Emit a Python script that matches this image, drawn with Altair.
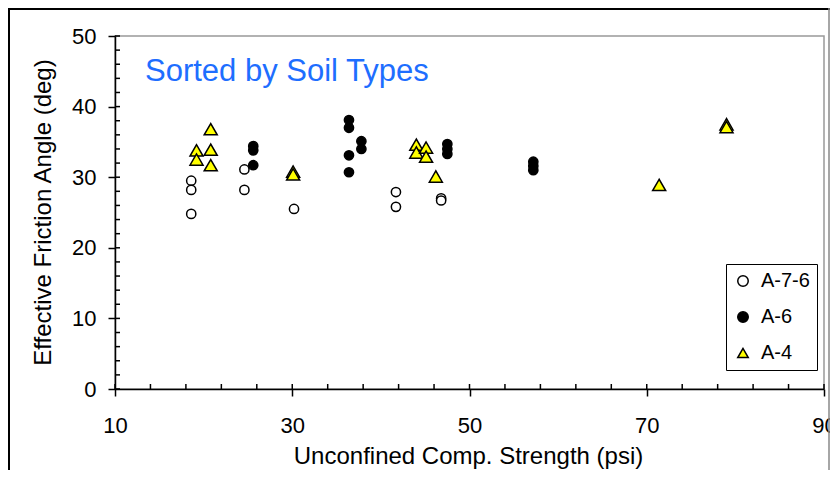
import altair as alt
import pandas as pd

FONT = "Liberation Sans"
TITLE = "Sorted by Soil Types"
X_TITLE = "Unconfined Comp. Strength (psi)"
Y_TITLE = "Effective Friction Angle (deg)"
SOILS = ["A-7-6", "A-6", "A-4"]

# A-7-6 (open circles)
A76_X = [18.6, 18.6, 18.6, 24.6, 24.6, 30.2, 41.7, 41.7, 46.8, 46.8]
A76_Y = [29.5, 28.2, 24.8, 31.1, 28.2, 25.5, 27.9, 25.8, 27.0, 26.7]
# A-6 (filled circles)
A6_X = [25.6, 25.6, 25.6, 36.4, 36.4, 36.4, 36.4, 37.8, 37.8, 47.5, 47.5, 47.5, 57.2, 57.2, 57.2]
A6_Y = [34.4, 33.8, 31.7, 38.1, 37.0, 33.1, 30.7, 35.1, 34.0, 34.7, 34.0, 33.3, 32.2, 31.6, 31.0]
# A-4 (yellow triangles)
A4_X = [19.2, 19.2, 20.8, 20.8, 20.8, 30.1, 30.1, 44.0, 44.0, 45.1, 45.1, 46.2, 71.4, 79.0, 79.0]
A4_Y = [33.8, 32.5, 36.8, 33.9, 31.7, 30.8, 30.4, 34.6, 33.5, 34.2, 32.9, 30.1, 28.9, 37.5, 37.1]

X_TICKS = [10, 30, 50, 70, 90]
X_MINOR = [10, 14, 18, 22, 26, 30, 34, 38, 42, 46, 50, 54, 58, 62, 66, 70, 74, 78, 82, 86, 90]
Y_TICKS = [0, 10, 20, 30, 40, 50]
Y_MINOR = [0, 2, 4, 6, 8, 10, 12, 14, 16, 18, 20, 22, 24, 26, 28, 30, 32, 34, 36, 38, 40,
           42, 44, 46, 48, 50]

W, H = 709, 353

df = pd.DataFrame({
    "x": A76_X + A6_X + A4_X,
    "y": A76_Y + A6_Y + A4_Y,
    "soil": ["A-7-6"] * len(A76_X) + ["A-6"] * len(A6_X) + ["A-4"] * len(A4_X),
})

x_scale = alt.Scale(domain=[10, 90], nice=False, zero=False)
y_scale = alt.Scale(domain=[0, 50], nice=False, zero=False)
fill_scale = alt.Scale(domain=SOILS, range=["white", "black", "#FFFF00"])
stroke_scale = alt.Scale(domain=SOILS, range=["black", "black", "black"])
shape_scale = alt.Scale(domain=SOILS, range=["circle", "circle", "triangle-up"])

x_axis = alt.Axis(
    values=X_TICKS, grid=False, tickSize=7, tickWidth=1.5, tickColor="black",
    domainColor="black", domainWidth=1.5, labelFontSize=22, labelFont=FONT,
    labelColor="black", labelPadding=19, labelFlush=False,
    title=X_TITLE, titleFont=FONT, titleFontSize=24, titleFontWeight="normal",
    titleColor="black", titleX=353, titleY=74, titleBaseline="alphabetic",
)
y_axis = alt.Axis(
    values=Y_TICKS, grid=False, tickSize=7, tickWidth=1.5, tickColor="black",
    domainColor="black", domainWidth=1.5, labelFontSize=22, labelFont=FONT,
    labelColor="black", labelPadding=12, labelFlush=False,
    title=Y_TITLE, titleFont=FONT, titleFontSize=24, titleFontWeight="normal",
    titleColor="black", titleX=-65, titleY=176, titleAngle=270,
    titleBaseline="alphabetic", titleAlign="center",
)

leg = alt.Legend(
    title=None, orient="none", legendX=611, legendY=228,
    labelFont=FONT, labelFontSize=20, labelColor="black", labelOffset=8,
    labelExpr="datum.label + '  '",
    symbolSize=110, symbolStrokeColor="black", symbolStrokeWidth=1.5, symbolOpacity=1,
    rowPadding=16, padding=7, strokeColor="black", fillColor="white", cornerRadius=0,
)

base = alt.Chart(df)
enc = dict(
    x=alt.X("x:Q", scale=x_scale, axis=x_axis),
    y=alt.Y("y:Q", scale=y_scale, axis=y_axis),
    fill=alt.Fill("soil:N", scale=fill_scale, legend=leg),
    stroke=alt.Stroke("soil:N", scale=stroke_scale, legend=leg),
    shape=alt.Shape("soil:N", scale=shape_scale, legend=leg),
)

circles = base.transform_filter(
    alt.FieldOneOfPredicate(field="soil", oneOf=["A-7-6", "A-6"])
).mark_point(filled=True, size=85, strokeWidth=1.5, opacity=1).encode(**enc)

triangles = base.transform_filter(
    alt.FieldEqualPredicate(field="soil", equal="A-4")
).mark_point(filled=True, size=170, strokeWidth=1.5, opacity=1).encode(**enc)

x_minor = alt.Chart(pd.DataFrame({"v": X_MINOR})).mark_rule(color="black", strokeWidth=1.5).encode(
    x=alt.X("v:Q", scale=x_scale, axis=x_axis), y=alt.value(H - 5), y2=alt.value(H)
)
y_minor = alt.Chart(pd.DataFrame({"v": Y_MINOR})).mark_rule(color="black", strokeWidth=1.5).encode(
    y=alt.Y("v:Q", scale=y_scale, axis=y_axis), x=alt.value(0), x2=alt.value(5)
)

title = alt.Chart(pd.DataFrame({"t": [TITLE]})).mark_text(
    align="left", baseline="alphabetic", font=FONT, fontSize=31, color="#1E6EFF"
).encode(text="t:N", x=alt.value(30), y=alt.value(45))

one = pd.DataFrame({"a": [0]})
frame_left = alt.Chart(one).mark_rule(color="black", strokeWidth=2).encode(
    x=alt.value(-106), y=alt.value(-28), y2=alt.value(H + 81)
)
frame_top = alt.Chart(one).mark_rule(color="black", strokeWidth=2).encode(
    y=alt.value(-27), x=alt.value(-107), x2=alt.value(W + 6)
)
frame_right = alt.Chart(one).mark_rule(color="#888888", strokeWidth=1.5).encode(
    x=alt.value(W + 5), y=alt.value(-28), y2=alt.value(H + 81)
)

chart = alt.layer(
    circles, triangles, x_minor, y_minor, frame_left, frame_top, frame_right, title
).properties(
    width=W, height=H,
    padding={"left": 107, "top": 28, "right": 6, "bottom": 81},
    autosize=alt.AutoSizeParams(type="none"),
).configure_view(stroke="#999999", strokeWidth=1.5)

chart.save("out.html", embed_options={"renderer": "svg", "actions": False})
